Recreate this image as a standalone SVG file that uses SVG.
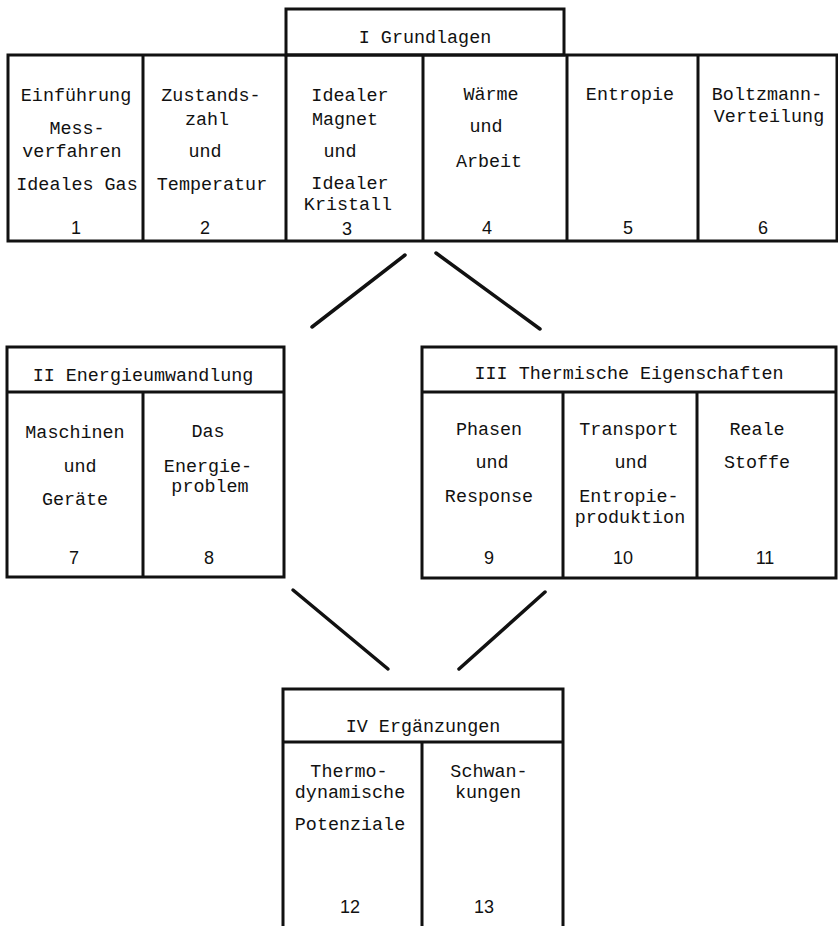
<svg xmlns="http://www.w3.org/2000/svg" width="838" height="926" viewBox="0 0 838 926">
<style>
.b{fill:none;stroke:#111;stroke-width:3;stroke-linejoin:miter}
.c{stroke:#111;stroke-width:3.5;stroke-linecap:round}
.t{font-family:"Liberation Mono","DejaVu Sans Mono",monospace;font-size:18.4px;fill:#111;text-anchor:middle}
.n{font-family:"Liberation Sans",Arial,sans-serif;font-size:18px;fill:#111;text-anchor:middle}
</style>
<rect width="838" height="926" fill="#fff"/>
<g id="connectors">
<line class="c" x1="405" y1="255" x2="312" y2="327"/>
<line class="c" x1="436" y1="253" x2="540" y2="329"/>
<line class="c" x1="293" y1="590" x2="388" y2="669"/>
<line class="c" x1="545" y1="592" x2="459" y2="669"/>
</g>
<g id="part1">
<rect class="b" x="286" y="9" width="278" height="46"/>
<text class="t" x="425" y="43">I Grundlagen</text>
<rect class="b" x="8" y="55" width="829" height="186"/>
<path class="b" d="M143,55V241M286,55V241M423,55V241M567,55V241M698,55V241"/>
</g>
<g id="ch1">
<text class="t" x="76" y="101">Einführung</text>
<text class="t" x="77" y="134">Mess-</text>
<text class="t" x="72" y="157">verfahren</text>
<text class="t" x="77" y="190">Ideales Gas</text>
<text class="n" x="76" y="234">1</text>
</g>
<g id="ch2">
<text class="t" x="211" y="101">Zustands-</text>
<text class="t" x="207" y="125">zahl</text>
<text class="t" x="205" y="157">und</text>
<text class="t" x="212" y="190">Temperatur</text>
<text class="n" x="205" y="234">2</text>
</g>
<g id="ch3">
<text class="t" x="350" y="101">Idealer</text>
<text class="t" x="345" y="125">Magnet</text>
<text class="t" x="340" y="157">und</text>
<text class="t" x="350" y="189">Idealer</text>
<text class="t" x="348" y="210">Kristall</text>
<text class="n" x="347" y="235">3</text>
</g>
<g id="ch4">
<text class="t" x="491" y="100">Wärme</text>
<text class="t" x="486" y="132">und</text>
<text class="t" x="489" y="167">Arbeit</text>
<text class="n" x="487" y="234">4</text>
</g>
<g id="ch5">
<text class="t" x="630" y="100">Entropie</text>
<text class="n" x="628" y="234">5</text>
</g>
<g id="ch6">
<text class="t" x="767" y="100">Boltzmann-</text>
<text class="t" x="769" y="122">Verteilung</text>
<text class="n" x="763" y="234">6</text>
</g>
<g id="part2">
<rect class="b" x="7" y="347" width="277" height="230"/>
<path class="b" d="M7,392H284M143,392V577"/>
<text class="t" x="143" y="381">II Energieumwandlung</text>
</g>
<g id="ch7">
<text class="t" x="75" y="438">Maschinen</text>
<text class="t" x="80" y="472">und</text>
<text class="t" x="75" y="505">Geräte</text>
<text class="n" x="74" y="564">7</text>
</g>
<g id="ch8">
<text class="t" x="208" y="437">Das</text>
<text class="t" x="208" y="472">Energie-</text>
<text class="t" x="210" y="492">problem</text>
<text class="n" x="209" y="564">8</text>
</g>
<g id="part3">
<rect class="b" x="422" y="347" width="414" height="231"/>
<path class="b" d="M422,392H836M563,392V578M697,392V578"/>
<text class="t" x="629" y="379">III Thermische Eigenschaften</text>
</g>
<g id="ch9">
<text class="t" x="489" y="435">Phasen</text>
<text class="t" x="492" y="468">und</text>
<text class="t" x="489" y="502">Response</text>
<text class="n" x="489" y="564">9</text>
</g>
<g id="ch10">
<text class="t" x="629" y="435">Transport</text>
<text class="t" x="631" y="468">und</text>
<text class="t" x="629" y="502">Entropie-</text>
<text class="t" x="630" y="523">produktion</text>
<text class="n" x="623" y="564">10</text>
</g>
<g id="ch11">
<text class="t" x="757" y="435">Reale</text>
<text class="t" x="757" y="468">Stoffe</text>
<text class="n" x="765" y="564">11</text>
</g>
<g id="part4">
<path class="b" d="M283,926V689H563V926M283,742H563M422,742V926"/>
<text class="t" x="423" y="732">IV Ergänzungen</text>
</g>
<g id="ch12">
<text class="t" x="349" y="777">Thermo-</text>
<text class="t" x="350" y="798">dynamische</text>
<text class="t" x="350" y="830">Potenziale</text>
<text class="n" x="350" y="913">12</text>
</g>
<g id="ch13">
<text class="t" x="489" y="777">Schwan-</text>
<text class="t" x="488" y="798">kungen</text>
<text class="n" x="484" y="913">13</text>
</g>
</svg>
